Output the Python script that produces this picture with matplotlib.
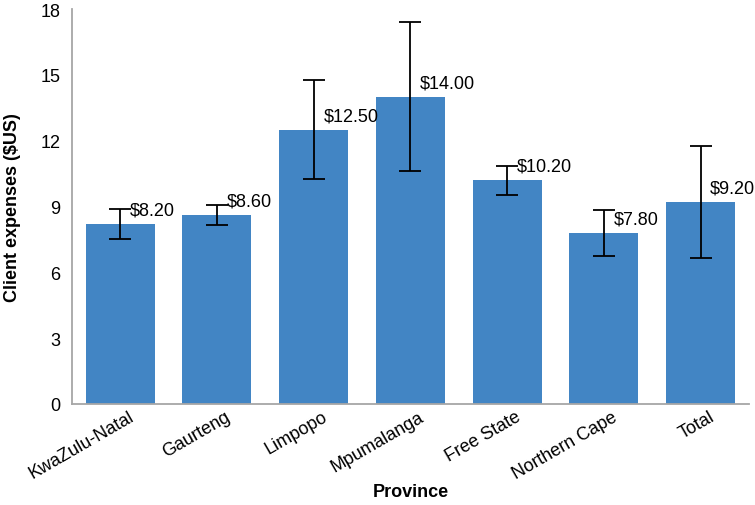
import matplotlib.pyplot as plt
import matplotlib.transforms as mtransforms
import numpy as np

plt.rcParams['font.family'] = ['Liberation Sans', 'DejaVu Sans']

provinces = ['KwaZulu-Natal', 'Gaurteng', 'Limpopo', 'Mpumalanga',
             'Free State', 'Northern Cape', 'Total']
expenses = [8.2, 8.6, 12.5, 14.0, 10.2, 7.8, 9.2]
errors = [0.7, 0.45, 2.27, 3.4, 0.66, 1.04, 2.54]
y_ticks = [0, 3, 6, 9, 12, 15, 18]

bar_color = '#4285c4'
spine_color = '#a6a6a6'

fig = plt.figure(figsize=(7.55, 5.06), dpi=100)
ax = fig.add_axes([0.095, 0.2, 0.897, 0.78])

x = np.arange(len(provinces))
ax.bar(x, expenses, width=0.715, color=bar_color, zorder=2)
ax.errorbar(x, expenses, yerr=errors, fmt='none', ecolor='black',
            elinewidth=1.3, capsize=8, capthick=1.3, zorder=3)

for xi, v in zip(x, expenses):
    ax.annotate('${:.2f}'.format(v), (xi, v), xytext=(7, 10),
                textcoords='offset points', ha='left', va='center',
                fontsize=13)

ax.set_xlim(-0.5, len(provinces) - 0.5)
ax.set_ylim(0, 18)
ax.set_yticks(y_ticks)
ax.set_yticklabels([str(t) for t in y_ticks], fontsize=13)
ax.set_xticks(x)
ax.set_xticklabels(provinces, rotation=30, ha='right',
                   rotation_mode='anchor', fontsize=13)
ax.tick_params(axis='both', length=0)
ax.tick_params(axis='y', pad=8)
ax.tick_params(axis='x', pad=3)

# nudge the rotated labels a little to the right, like the original
shift = mtransforms.ScaledTranslation(6 / 72, 0, fig.dpi_scale_trans)
for lbl in ax.get_xticklabels():
    lbl.set_transform(lbl.get_transform() + shift)

for side in ['top', 'right']:
    ax.spines[side].set_visible(False)
for side in ['left', 'bottom']:
    ax.spines[side].set_color(spine_color)
    ax.spines[side].set_linewidth(1.3)

ax.set_xlabel('Province', fontsize=13, fontweight='bold', va='center')
ax.xaxis.set_label_coords(0.5, -0.222)
ax.set_ylabel('Client expenses ($US)', fontsize=13, fontweight='bold', labelpad=14)

fig.savefig('out.png', dpi=100)
